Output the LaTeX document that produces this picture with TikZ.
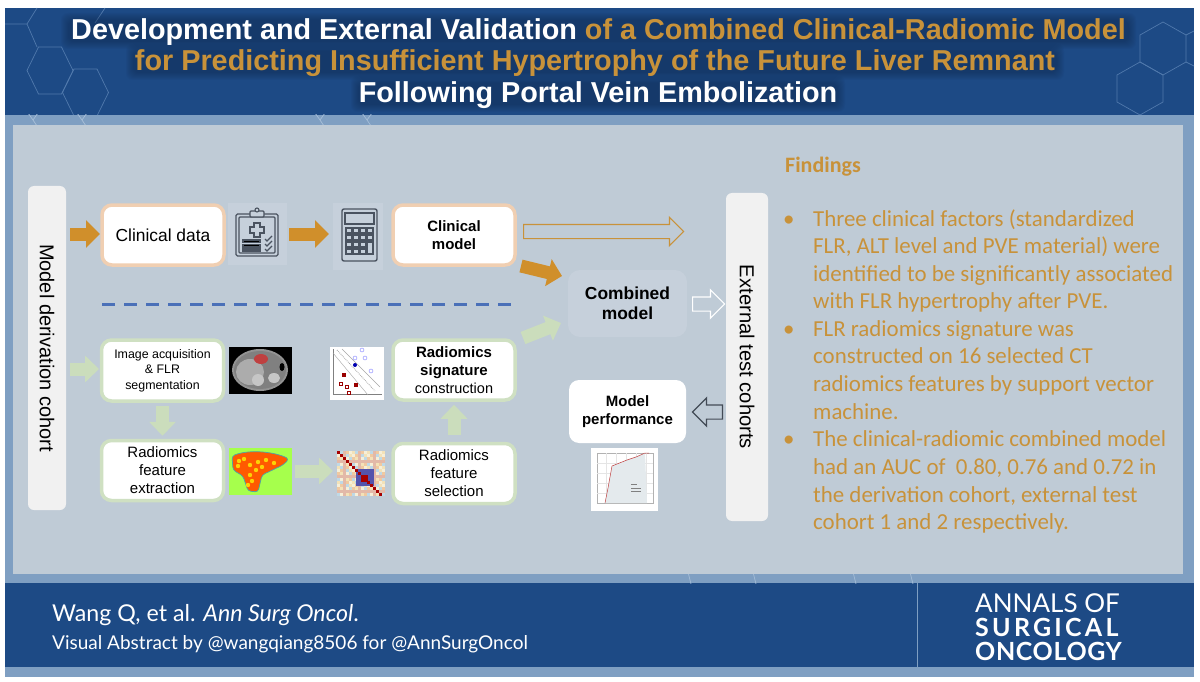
\documentclass[tikz,border=0pt]{standalone}
\usepackage{fontspec}
\setmainfont{Liberation Sans}
\newfontfamily\findfont{Carlito}
\newfontfamily\footfont{Lato}
\usetikzlibrary{shapes.arrows,arrows.meta,calc}
\definecolor{hdr}{HTML}{1D4A85}
\definecolor{band}{HTML}{7F9FC2}
\definecolor{panel}{HTML}{BFCBD6}
\definecolor{gold}{HTML}{C8923A}
\definecolor{goldar}{HTML}{D08F2B}
\definecolor{paleor}{HTML}{F0CFB2}
\definecolor{palegr}{HTML}{CFE0C2}
\definecolor{arrgr}{HTML}{CBDDBC}
\definecolor{side}{HTML}{F1F1F1}
\definecolor{hexc}{HTML}{5079AC}
\definecolor{hexb}{HTML}{A6BED8}
\definecolor{halo}{HTML}{0C2344}
\definecolor{icon}{HTML}{4A5360}
\definecolor{iconbg}{HTML}{C6D0DB}
\definecolor{dashc}{HTML}{4A70B8}
\definecolor{cp1}{HTML}{F3E2B8}
\definecolor{cp2}{HTML}{F0C9A0}
\definecolor{cp3}{HTML}{BFD9E6}
\definecolor{cp4}{HTML}{F6EFD8}
\definecolor{cp5}{HTML}{E3B9A8}
\tikzset{
  orbox/.style={draw=paleor,line width=3.5pt,fill=white,rounded corners=10pt,inner sep=0pt},
  grbox/.style={draw=palegr,line width=3.5pt,fill=white,rounded corners=10pt,inner sep=0pt},
  plainbox/.style={fill=white,rounded corners=10pt,inner sep=0pt},
  sidebox/.style={fill=side,rounded corners=6pt,inner sep=0pt},
  orarrow/.style={goldar,line width=13pt,-{Triangle[length=14pt,width=27pt]}},
  grarrow/.style={arrgr,line width=13pt,-{Triangle[length=14pt,width=26pt]}},
  hollow/.style={single arrow,inner sep=0pt,text height=6.5pt,text depth=6.5pt,text width=1pt,minimum height=#1,minimum width=27pt,single arrow head extend=7pt,single arrow head indent=0pt,line width=1.2pt,anchor=tail},
  hexline/.style={draw=hexc,line width=.7pt},
  hexband/.style={draw=hexb,line width=.7pt},
  titleline/.style={inner sep=0pt,anchor=base,font=\bfseries\fontsize{28.8}{32}\selectfont},
  findline/.style={inner sep=0pt,anchor=base west,text=gold,font=\findfont\fontsize{22.9}{27}\selectfont},
  icon/.style={draw=icon,line width=1.1pt},
}
\newcommand{\fsz}[2]{\fontsize{#1}{#2}\selectfont}
\newcommand{\hexflat}[2]{\draw[hexline] (#1+23,#2) -- ++(-11.5,23.5) -- ++(-23,0) -- ++(-11.5,-23.5) -- ++(11.5,-23.5) -- ++(23,0) -- cycle;}
\newcommand{\hexpoint}[2]{\draw[hexline] (#1,#2-26.5) -- ++(23,13) -- ++(0,27) -- ++(-23,13) -- ++(-23,-13) -- ++(0,-27) -- cycle;}
\newcommand{\haloband}[4]{\foreach \gr in {0,...,7} \fill[halo,opacity=.055,rounded corners=7pt] (#1-\gr,#2-\gr) rectangle (#3+\gr,#4+\gr);}
\begin{document}
\begin{tikzpicture}[x=1pt,y=-1pt]
\useasboundingbox (0,0) rectangle (1200,682);
\fill[white] (0,0) rectangle (1200,682);
% frame
\fill[band] (5,115) rectangle (1194,583);
\fill[band] (5,667) rectangle (1194,677);
\fill[panel] (13,125) rectangle (1183,574);
\fill[hdr] (5,8) rectangle (1194,115);
\fill[hdr] (5,583) rectangle (1194,667);
% hexagon decoration
\begin{scope}
\clip (5,8) rectangle (1194,115);
\draw[hexline] (5,24) -- (27,24) -- (37,8);
\draw[hexline] (27,24) -- (37,47);
\draw[hexline] (95,23) -- (105,8);
\hexflat{50}{70.5}
\hexflat{85.5}{92.5}
\hexpoint{1163}{48.5}
\hexpoint{1140}{88.5}
\draw[hexline] (1186,35) -- (1194,31);
\draw[hexline] (1186,62) -- (1194,66);
\end{scope}
% faint hexagon bits in the light band
\begin{scope}
\clip (5,115) rectangle (1194,125);
\foreach \hx in {33,82,320,367} \draw[hexband] (\hx-5,113) -- (\hx,120) -- (\hx+5,113) (\hx,120) -- (\hx+4,126);
\end{scope}
\begin{scope}
\clip (5,574) rectangle (1194,583);
\foreach \hx in {688,753,853,910} \draw[hexband] (\hx,572) -- (\hx+3,584);
\end{scope}
% title
\haloband{68}{20}{1129}{42}
\haloband{133}{51}{1057}{73}
\haloband{358}{83}{838}{105}
\node[titleline,text=white] (t1) at (598.5,40) {Development and External Validation \textcolor{gold}{of a Combined Clinical-Radiomic Model}};
\node[titleline,text=gold] (t2) at (595,71) {for Predicting Insufficient Hypertrophy of the Future Liver Remnant};
\node[titleline,text=white] (t3) at (598,103) {Following Portal Vein Embolization};
% side bars
\node[sidebox,minimum width=38pt,minimum height=324pt] (deriv) at (47,348) {};
\node[rotate=-90,font=\fsz{20}{24}] (derivt) at (deriv.center) {Model derivation cohort};
\node[sidebox,minimum width=42pt,minimum height=328pt] (ext) at (747,357) {};
\node[rotate=-90,font=\fsz{20.2}{24}] (extt) at (ext.center) {External test cohorts};
% icon backgrounds
\fill[iconbg] (228,203) rectangle (287,265);
\fill[iconbg] (333,203) rectangle (383,270);
% top row
\node[orbox,minimum width=122pt,minimum height=60pt,font=\fsz{17.4}{21}] (cd) at (163,235) {Clinical data};
\node[orbox,minimum width=122pt,minimum height=60pt,align=center,font=\bfseries\fsz{15}{17.5}] (cm) at (454,235) {Clinical\\model};
\node[fill=iconbg,rounded corners=12pt,minimum width=119pt,minimum height=67pt,inner sep=0pt,align=center,font=\bfseries\fsz{17.4}{20.5}] (comb) at (627.5,303.5) {Combined\\model};
\node[plainbox,minimum width=117pt,minimum height=63pt,align=center,font=\bfseries\fsz{15}{18}] (perf) at (627.5,411.5) {Model\\performance};
% lower boxes
\node[grbox,minimum width=122pt,minimum height=61pt,align=center,font=\fsz{12.4}{15.5}] (img) at (162.5,370.5) {Image acquisition\\\& FLR\\segmentation};
\node[grbox,minimum width=122pt,minimum height=60pt,align=center,font=\fsz{15}{18}] (ext1) at (162.5,470.5) {Radiomics\\feature\\extraction};
\node[grbox,minimum width=122pt,minimum height=60pt,align=center,font=\fsz{15}{18}] (sig) at (454,370) {\textbf{Radiomics}\\\textbf{signature}\\\fsz{14.5}{18}construction};
\node[grbox,minimum width=122pt,minimum height=60pt,align=center,font=\fsz{15}{18}] (sel) at (454,473.5) {Radiomics\\feature\\selection};
% coordinates for free ends
\coordinate (a1s) at (70,234); \coordinate (a1e) at (100,234);
\coordinate (a2s) at (289,234); \coordinate (a2e) at (329,234);
\coordinate (a3s) at (521,266); \coordinate (a3e) at (562,276);
\coordinate (g1s) at (70,369); \coordinate (g1e) at (99,369);
\coordinate (g2s) at (295,471); \coordinate (g2e) at (333,471);
\coordinate (g3s) at (523,338); \coordinate (g3e) at (561,323);
% filled arrows
\draw[orarrow] (a1s) -- (a1e);
\draw[orarrow] (a2s) -- (a2e);
\draw[orarrow] (a3s) -- (a3e);
\draw[grarrow] (g1s) -- (g1e);
\draw[grarrow] ($(img.south)+(0,3)$) -- ($(ext1.north)+(0,-3)$);
\draw[grarrow] (g2s) -- (g2e);
\draw[grarrow] ($(sel.north)+(0,-6.5)$) -- ($(sig.south)+(0,3)$);
\draw[grarrow] (g3s) -- (g3e);
% hollow arrows
\node[hollow=160pt,draw=gold] (ho1) at (523,231.5) {};
\node[hollow=32pt,draw=white] (ho2) at (692,304) {};
\node[hollow=30pt,draw=icon!90!black,shape border rotate=180] (ho3) at (723,412) {};
% dashed separator
\coordinate (dl) at (102,304); \coordinate (dr) at (513,304);
\draw[draw=dashc,line width=3pt,dash pattern=on 13pt off 9pt] (dl) -- (dr);
% clipboard icon
\begin{scope}[shift={(236,209)}]
\draw[icon,rounded corners=1.5pt] (0,5) rectangle (42,47);
\draw[icon,rounded corners=1pt] (3,8) rectangle (39,44);
\draw[icon,fill=iconbg,rounded corners=1pt] (14,2) rectangle (28,8);
\draw[icon,fill=iconbg] (21,1) circle (2pt);
\draw[icon] (18,14) -- (24,14) -- (24,18) -- (28,18) -- (28,24) -- (24,24) -- (24,28) -- (18,28) -- (18,24) -- (14,24) -- (14,18) -- (18,18) -- cycle;
\fill[icon] (7,31) rectangle (24,33.5);
\fill[icon] (7,35.5) rectangle (24,38);
\fill[icon] (7,40) rectangle (24,42);
\foreach \yy in {31,36,41} \draw[icon] (29,\yy-1) -- (31,\yy+1) -- (36,\yy-4);
\end{scope}
% calculator icon
\begin{scope}[shift={(342,209)}]
\draw[icon,rounded corners=2pt,line width=1.4pt] (0,0) rectangle (35,52);
\draw[icon] (3,4) rectangle (32,15);
\foreach \cy in {19,26,33,40} \foreach \cx in {4,11,18,25} {
  \ifnum\cx=25 \ifnum\cy>26 \else \draw[icon] (\cx,\cy) rectangle ++(6,5); \fi \else \draw[icon] (\cx,\cy) rectangle ++(6,5); \fi
}
\draw[icon] (25,33) rectangle (31,45);
\end{scope}
% CT image
\fill[black] (229,347) rectangle (292,394);
\fill[gray!85] (260,370) ellipse (28pt and 21pt);
\fill[gray] (260,370) ellipse (26pt and 19pt);
\fill[gray!65] (250,372) ellipse (14pt and 13pt);
\fill[red!50!gray] (261,359) ellipse (7pt and 5pt);
\fill[gray!45] (274,378) ellipse (6pt and 5pt);
\fill[gray!45] (258,380) ellipse (6pt and 6pt);
\fill[black] (282,367) ellipse (2.5pt and 4pt);
% SVM image
\begin{scope}[shift={(330,347)}]
\fill[white] (0,0) rectangle (54,53);
\draw[gray,line width=.4pt] (3,2) -- (3,47) -- (52,47);
\draw[gray!70,line width=.4pt] (3,6) -- (38,48);
\draw[gray!70,line width=.8pt,densely dotted] (7,3) -- (45,44);
\draw[gray!70,line width=.4pt] (12,2) -- (50,40);
\foreach \px/\py in {32/3,25/11,35/11,41/24} \draw[blue!50,line width=.4pt] (\px,\py) circle (2pt);
\fill[blue!70!black] (25,18) circle (2pt);
\fill[red!60!black] (12,26) rectangle ++(3.5,3.5);
\fill[red!60!black] (24,36) rectangle ++(3.5,3.5);
\foreach \px/\py in {9/35,15/38,17/44} \draw[red!60!black,line width=.4pt] (\px,\py) rectangle ++(3.5,3.5);
\end{scope}
% liver map
\fill[green!50!yellow!70!white] (229,448) rectangle (292,495);
\fill[orange!70!red,draw=teal!70,line width=.7pt,rounded corners=3pt] (232,456) .. controls (250,449) and (275,452) .. (289,459) -- (283,465) -- (262,475) -- (258,492) -- (248,491) -- (243,476) -- (233,470) -- cycle;
\foreach \lx/\ly in {239/461,250/465,258/462,266/460,274/463,250/475,256/470,248/485,238/466,244/459,262/467,252/481}
  \fill[yellow!70!orange] (\lx,\ly) circle (2.2pt);
% correlation map
\begin{scope}[shift={(337,451)}]
\foreach \ci in {0,...,15} \foreach \cj in {0,...,14} {
  \pgfmathtruncatemacro{\cc}{mod(\ci*7+\cj*13+\ci*\cj,5)+1}
  \fill[cp\cc] (\ci*3,\cj*3) rectangle ++(3,3);
}
\fill[blue!35!gray] (19,18) rectangle (37,35);
\fill[red!65!black] (24,24) rectangle (31,31);
\foreach \dd in {0,...,14} \fill[red!65!black] (\dd*3,\dd*3) rectangle ++(3,3);
\end{scope}
% ROC image
\begin{scope}[shift={(591,448)}]
\fill[white] (0,0) rectangle (67,63);
\draw[gray!60,line width=.4pt] (6,5) rectangle (62,55);
\foreach \gg in {15,25,35,45,55} \draw[gray!20,line width=.3pt] (\gg,5) -- (\gg,55);
\foreach \gg in {15,25,35,45} \draw[gray!20,line width=.3pt] (6,\gg) -- (62,\gg);
\fill[cyan!20!gray!20!white] (14,55) -- (17,40) -- (21,18) -- (36,12) -- (45,9) -- (54,5) -- (56,55) -- cycle;
\draw[red!50!gray,line width=.5pt] (14,55) -- (17,40) -- (21,18) -- (36,12) -- (45,9) -- (54,5) -- (58,5);
\draw[gray,line width=.5pt] (40,36) -- (46,36) (40,40) -- (50,40) (40,43) -- (50,43);
\end{scope}
% findings
\node[findline,font=\findfont\bfseries\fsz{22}{26}] (f0) at (785,172) {Findings};
\foreach \fy/\ft in {226/Three clinical factors (standardized,
  253.5/{FLR, ALT level and PVE material) were},
  281/identified to be significantly associated,
  308.5/with FLR hypertrophy after PVE.,
  336/FLR radiomics signature was,
  363.5/constructed on 16 selected CT,
  391/radiomics features by support vector,
  419/machine.,
  446.5/The clinical-radiomic combined model,
  474/{had an AUC of \ 0.80, 0.76 and 0.72 in},
  502/{the derivation cohort, external test},
  529.5/cohort 1 and 2 respectively.}
  \node[findline] at (813,\fy) {\ft};
\foreach \by in {226,336,446.5} \node[findline] at (783,\by) {•};
% footer
\draw[draw=band,line width=1pt] (917,583) -- (917,667);
\node[inner sep=0pt,anchor=base west,text=white,font=\footfont\fsz{23.2}{28}] (w) at (52,621) {Wang Q, et al. \textit{Ann Surg Oncol}.};
\node[inner sep=0pt,anchor=base west,text=white,font=\footfont\fsz{19}{22}] (v) at (52,649) {Visual Abstract by @wangqiang8506 for @AnnSurgOncol};
\node[inner sep=0pt,anchor=base west,text=white,font=\footfont\fsz{26}{28}] (l1) at (975,612) {ANNALS OF};
\node[inner sep=0pt,anchor=base west,text=white,font=\footfont\bfseries\fsz{25}{28}\addfontfeature{LetterSpace=13}] (l2) at (975,636) {SURGICAL};
\node[inner sep=0pt,anchor=base west,text=white,font=\footfont\bfseries\fsz{25}{28}\addfontfeature{LetterSpace=2.5}] (l3) at (975,660) {ONCOLOGY};
\end{tikzpicture}
\end{document}
